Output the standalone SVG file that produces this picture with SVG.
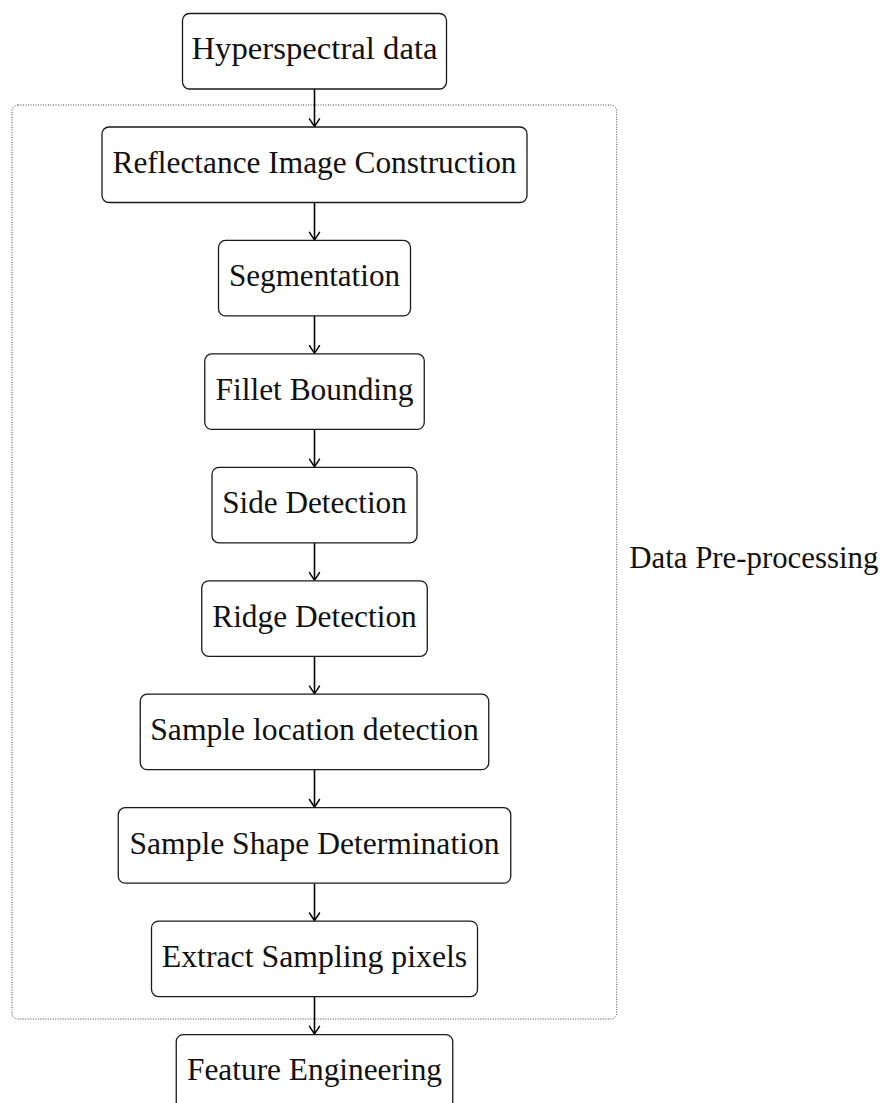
<svg xmlns="http://www.w3.org/2000/svg" width="887" height="1103" viewBox="0 0 887 1103">
  <style>
    .box { fill: #ffffff; stroke: #1a1a1a; stroke-width: 1.3; }
    .lbl { font-family: "Liberation Serif", "DejaVu Serif", serif; font-size: 30.5px; fill: #111; text-anchor: middle; }
    .edge { fill: none; stroke: #000; stroke-width: 1.6; }
    .group { fill: none; stroke: #444; stroke-width: 1; stroke-dasharray: 1 1.5; }
  </style>
  <defs>
    <marker id="arrow" viewBox="-10 -7 12 14" markerWidth="12" markerHeight="14" refX="0" refY="0" orient="auto" markerUnits="userSpaceOnUse">
      <path d="M -7.5,-5 Q -2,-1.5 0,0 Q -2,1.5 -7.5,5" fill="none" stroke="#000" stroke-width="1.5" stroke-linecap="round" stroke-linejoin="round"/>
    </marker>
  </defs>

  <!-- pre-processing stage frame -->
  <g id="preprocessing-group">
    <rect class="group" x="12" y="105" width="604.7" height="914" rx="6"/>
    <text class="lbl" x="753.8" y="568" textLength="249" lengthAdjust="spacingAndGlyphs">Data Pre-processing</text>
  </g>

  <!-- connectors -->
  <g id="connectors">
    <path class="edge" d="M314.5,89 V126.3" marker-end="url(#arrow)"/>
    <path class="edge" d="M314.5,202.5 V239.8" marker-end="url(#arrow)"/>
    <path class="edge" d="M314.5,315.9 V353.2" marker-end="url(#arrow)"/>
    <path class="edge" d="M314.5,429.4 V466.7" marker-end="url(#arrow)"/>
    <path class="edge" d="M314.5,542.8 V580.1" marker-end="url(#arrow)"/>
    <path class="edge" d="M314.5,656.3 V693.6" marker-end="url(#arrow)"/>
    <path class="edge" d="M314.5,769.7 V807" marker-end="url(#arrow)"/>
    <path class="edge" d="M314.5,883.2 V920.5" marker-end="url(#arrow)"/>
    <path class="edge" d="M314.5,996.6 V1033.9" marker-end="url(#arrow)"/>
  </g>

  <g id="hyperspectral-data">
    <rect class="box" x="182.5" y="13.5" width="264" height="75.5" rx="7"/>
    <text class="lbl" x="314.5" y="59.3" textLength="246" lengthAdjust="spacingAndGlyphs">Hyperspectral data</text>
  </g>
  <g id="reflectance-image-construction">
    <rect class="box" x="102" y="127" width="425" height="75.5" rx="7"/>
    <text class="lbl" x="314.5" y="172.8" textLength="404" lengthAdjust="spacingAndGlyphs">Reflectance Image Construction</text>
  </g>
  <g id="segmentation">
    <rect class="box" x="218.5" y="240.4" width="192" height="75.5" rx="7"/>
    <text class="lbl" x="314.5" y="286.2" textLength="171" lengthAdjust="spacingAndGlyphs">Segmentation</text>
  </g>
  <g id="fillet-bounding">
    <rect class="box" x="204.75" y="353.9" width="219.5" height="75.5" rx="7"/>
    <text class="lbl" x="314.5" y="399.7" textLength="198" lengthAdjust="spacingAndGlyphs">Fillet Bounding</text>
  </g>
  <g id="side-detection">
    <rect class="box" x="212" y="467.3" width="205" height="75.5" rx="7"/>
    <text class="lbl" x="314.5" y="513.1" textLength="184.5" lengthAdjust="spacingAndGlyphs">Side Detection</text>
  </g>
  <g id="ridge-detection">
    <rect class="box" x="201.75" y="580.8" width="225.5" height="75.5" rx="7"/>
    <text class="lbl" x="314.5" y="626.6" textLength="204.5" lengthAdjust="spacingAndGlyphs">Ridge Detection</text>
  </g>
  <g id="sample-location-detection">
    <rect class="box" x="140.25" y="694.2" width="348.5" height="75.5" rx="7"/>
    <text class="lbl" x="314.5" y="740" textLength="328.5" lengthAdjust="spacingAndGlyphs">Sample location detection</text>
  </g>
  <g id="sample-shape-determination">
    <rect class="box" x="118.25" y="807.7" width="392.5" height="75.5" rx="7"/>
    <text class="lbl" x="314.5" y="853.5" textLength="370" lengthAdjust="spacingAndGlyphs">Sample Shape Determination</text>
  </g>
  <g id="extract-sampling-pixels">
    <rect class="box" x="151.5" y="921.1" width="326" height="75.5" rx="7"/>
    <text class="lbl" x="314.5" y="966.9" textLength="305.5" lengthAdjust="spacingAndGlyphs">Extract Sampling pixels</text>
  </g>
  <g id="feature-engineering">
    <rect class="box" x="176.25" y="1034.55" width="276.5" height="75.5" rx="7"/>
    <text class="lbl" x="314.5" y="1080.4" textLength="255" lengthAdjust="spacingAndGlyphs">Feature Engineering</text>
  </g>
</svg>
